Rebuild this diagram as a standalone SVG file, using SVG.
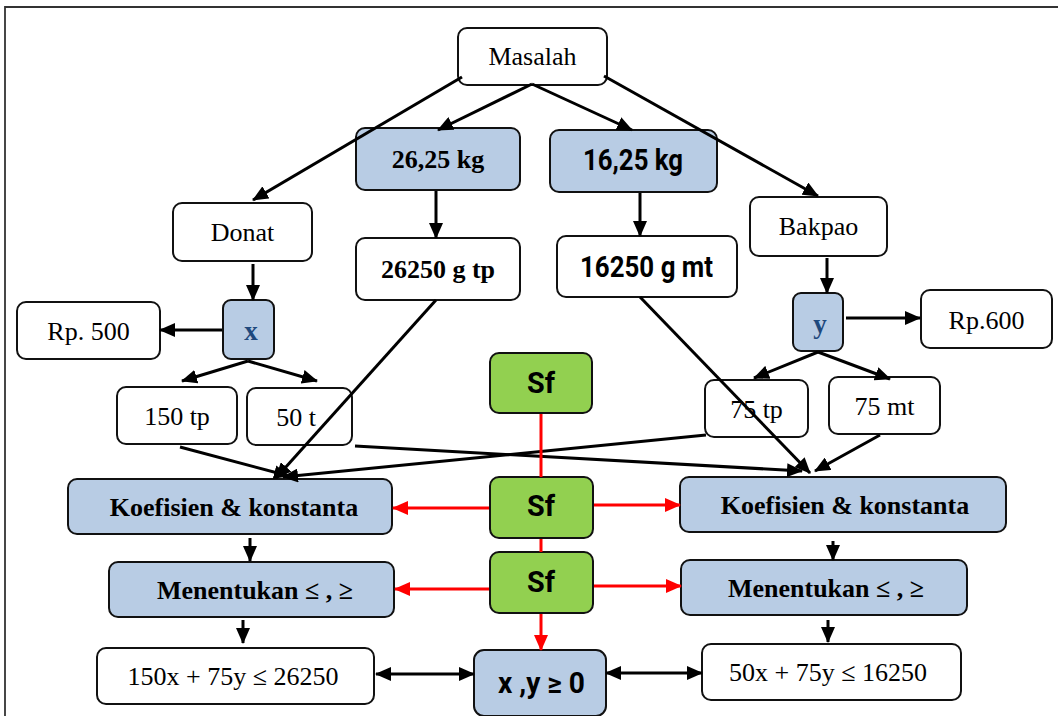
<svg xmlns="http://www.w3.org/2000/svg" width="1058" height="716" viewBox="0 0 1058 716">
  <style>
    .box { stroke: #111; stroke-width: 2; }
    .plain { fill: #ffffff; }
    .blue { fill: #b8cce4; }
    .green { fill: #92d050; }
    .serif { font-family: "Liberation Serif", "Times New Roman", serif; font-size: 26px; fill: #000; }
    .serifb { font-family: "Liberation Serif", "Times New Roman", serif; font-size: 26px; font-weight: bold; fill: #000; }
    .sansb { font-family: Roboto, "Liberation Sans", Arial, sans-serif; font-size: 29px; font-weight: bold; fill: #000; }
    .var { font-family: "Liberation Serif", "Times New Roman", serif; font-size: 27px; font-weight: bold; fill: #1f497d; }
    .blk { stroke: #000; stroke-width: 3; fill: none; }
    .red { stroke: #ff0000; stroke-width: 3; fill: none; }
  </style>
  <defs>
    <marker id="ah" markerUnits="userSpaceOnUse" markerWidth="16" markerHeight="14" refX="15" refY="7" orient="auto-start-reverse">
      <path d="M0,0 L16,7 L0,14 z" fill="#000"/>
    </marker>
    <marker id="ahr" markerUnits="userSpaceOnUse" markerWidth="16" markerHeight="14" refX="15" refY="7" orient="auto">
      <path d="M0,0 L16,7 L0,14 z" fill="#ff0000"/>
    </marker>
  </defs>

  <rect width="1058" height="716" fill="#ffffff"/>
  <!-- page frame -->
  <path d="M5,716 L5,7 L1058,7" stroke="#333" stroke-width="1.8" fill="none"/>

  <!-- nodes -->
  <g id="masalah"><rect class="box plain" x="458" y="28" width="149" height="57" rx="9"/><text class="serif" x="532.5" y="65" text-anchor="middle">Masalah</text></g>
  <g id="berat-tp"><rect class="box blue" x="356" y="128" width="164" height="62" rx="9"/><text class="serifb" x="438" y="168" text-anchor="middle">26,25 kg</text></g>
  <g id="berat-mt"><rect class="box blue" x="550" y="130" width="167" height="62" rx="9"/><text class="sansb" x="583" y="170" textLength="100" lengthAdjust="spacingAndGlyphs">16,25 kg</text></g>
  <g id="donat"><rect class="box plain" x="173" y="203" width="139" height="58" rx="9"/><text class="serif" x="242.5" y="241" text-anchor="middle">Donat</text></g>
  <g id="bakpao"><rect class="box plain" x="750" y="197" width="137" height="59" rx="9"/><text class="serif" x="818.5" y="235" text-anchor="middle">Bakpao</text></g>
  <g id="gram-tp"><rect class="box plain" x="356" y="238" width="164" height="62" rx="9"/><text class="serifb" x="438" y="278" text-anchor="middle">26250 g tp</text></g>
  <g id="gram-mt"><rect class="box plain" x="557" y="236" width="180" height="61" rx="9"/><text class="sansb" x="580" y="277" textLength="133" lengthAdjust="spacingAndGlyphs">16250 g mt</text></g>
  <g id="var-x"><rect class="box blue" x="223" y="300" width="51" height="59" rx="8"/><text class="var" x="251" y="340" text-anchor="middle">x</text></g>
  <g id="harga-x"><rect class="box plain" x="17" y="302" width="143" height="57" rx="9"/><text class="serif" x="88.5" y="340" text-anchor="middle">Rp. 500</text></g>
  <g id="var-y"><rect class="box blue" x="793" y="293" width="50" height="58" rx="8"/><text class="var" x="820" y="333" text-anchor="middle">y</text></g>
  <g id="harga-y"><rect class="box plain" x="921" y="290" width="131" height="58" rx="9"/><text class="serif" x="986.5" y="329" text-anchor="middle">Rp.600</text></g>
  <g id="x-tp"><rect class="box plain" x="117" y="387" width="120" height="57" rx="9"/><text class="serif" x="177" y="425" text-anchor="middle">150 tp</text></g>
  <g id="x-t"><rect class="box plain" x="247" y="388" width="105" height="57" rx="9"/><text class="serif" x="296" y="426" text-anchor="middle">50 t</text></g>
  <g id="y-tp"><rect class="box plain" x="705" y="380" width="103" height="57" rx="9"/><text class="serif" x="756.5" y="418" text-anchor="middle">75 tp</text></g>
  <g id="y-mt"><rect class="box plain" x="829" y="377" width="111" height="57" rx="9"/><text class="serif" x="884.5" y="415" text-anchor="middle">75 mt</text></g>
  <g id="sf-1"><rect class="box green" x="490" y="353" width="102" height="60" rx="9"/><text class="sansb" x="527" y="393" textLength="28" lengthAdjust="spacingAndGlyphs">Sf</text></g>
  <g id="sf-2"><rect class="box green" x="490" y="477" width="103" height="61" rx="9"/><text class="sansb" x="527" y="516" textLength="28" lengthAdjust="spacingAndGlyphs">Sf</text></g>
  <g id="sf-3"><rect class="box green" x="490" y="552" width="103" height="61" rx="9"/><text class="sansb" x="527" y="592" textLength="28" lengthAdjust="spacingAndGlyphs">Sf</text></g>
  <g id="koef-kiri"><rect class="box blue" x="68" y="479" width="324" height="55" rx="9"/><text class="serifb" x="234" y="516" text-anchor="middle">Koefisien &amp; konstanta</text></g>
  <g id="koef-kanan"><rect class="box blue" x="680" y="477" width="326" height="55" rx="9"/><text class="serifb" x="845" y="514" text-anchor="middle">Koefisien &amp; konstanta</text></g>
  <g id="tanda-kiri"><rect class="box blue" x="109" y="562" width="285" height="55" rx="9"/><text class="serifb" x="255" y="599" text-anchor="middle">Menentukan ≤ , ≥</text></g>
  <g id="tanda-kanan"><rect class="box blue" x="681" y="560" width="286" height="55" rx="9"/><text class="serifb" x="826" y="597" text-anchor="middle">Menentukan ≤ , ≥</text></g>
  <g id="kendala-1"><rect class="box plain" x="97" y="648" width="277" height="56" rx="9"/><text class="serif" x="233" y="685" text-anchor="middle">150x + 75y  ≤ 26250</text></g>
  <g id="non-negatif"><rect class="box blue" x="474" y="650" width="132" height="66" rx="10"/><text class="sansb" x="498" y="693" textLength="87" lengthAdjust="spacingAndGlyphs">x ,y ≥ 0</text></g>
  <g id="kendala-2"><rect class="box plain" x="702" y="644" width="259" height="56" rx="9"/><text class="serif" x="828" y="681" text-anchor="middle">50x + 75y ≤ 16250</text></g>

  <!-- connectors, drawn over the boxes -->
  <g id="connectors">
    <path class="blk" marker-end="url(#ah)" d="M462,77 L253,200"/>
    <path class="blk" marker-end="url(#ah)" d="M532,84 L438,130"/>
    <path class="blk" marker-end="url(#ah)" d="M532,84 L632,130"/>
    <path class="blk" marker-end="url(#ah)" d="M604,76 L818,196"/>
    <path class="blk" marker-end="url(#ah)" d="M436,191 L436,238"/>
    <path class="blk" marker-end="url(#ah)" d="M640,193 L640,236"/>
    <path class="blk" marker-end="url(#ah)" d="M253,264 L253,300"/>
    <path class="blk" marker-end="url(#ah)" d="M827,258 L827,293"/>
    <path class="blk" marker-end="url(#ah)" d="M222,330 L160,330"/>
    <path class="blk" marker-end="url(#ah)" d="M846,318 L920,318"/>
    <path class="blk" marker-end="url(#ah)" d="M248,361 L182,381"/>
    <path class="blk" marker-end="url(#ah)" d="M248,361 L317,381"/>
    <path class="blk" marker-end="url(#ah)" d="M818,352 L754,378"/>
    <path class="blk" marker-end="url(#ah)" d="M818,352 L890,379"/>
    <path class="blk" marker-end="url(#ah)" d="M180,447 L289,476"/>
    <path class="blk" marker-end="url(#ah)" d="M436,300 L276,478"/>
    <path class="blk" marker-end="url(#ah)" d="M706,435 L283,477"/>
    <path class="blk" marker-end="url(#ah)" d="M355,446 L802,471"/>
    <path class="blk" marker-end="url(#ah)" d="M640,297 L810,473"/>
    <path class="blk" marker-end="url(#ah)" d="M880,435 L815,471"/>
    <path class="blk" marker-end="url(#ah)" d="M250,538 L250,561"/>
    <path class="blk" marker-end="url(#ah)" d="M833,541 L833,560"/>
    <path class="blk" marker-end="url(#ah)" d="M243,620 L243,643"/>
    <path class="blk" marker-end="url(#ah)" d="M828,620 L828,642"/>
    <path class="blk" marker-start="url(#ah)" marker-end="url(#ah)" d="M376,674 L474,674"/>
    <path class="blk" marker-start="url(#ah)" marker-end="url(#ah)" d="M606,673 L702,673"/>
    <path class="red" d="M541,414 L541,477"/>
    <path class="red" d="M541,539 L541,552"/>
    <path class="red" marker-end="url(#ahr)" d="M541,614 L541,650"/>
    <path class="red" marker-end="url(#ahr)" d="M489,508 L393,508"/>
    <path class="red" marker-end="url(#ahr)" d="M594,505 L680,505"/>
    <path class="red" marker-end="url(#ahr)" d="M489,589 L395,589"/>
    <path class="red" marker-end="url(#ahr)" d="M594,586 L681,586"/>
  </g>
</svg>
